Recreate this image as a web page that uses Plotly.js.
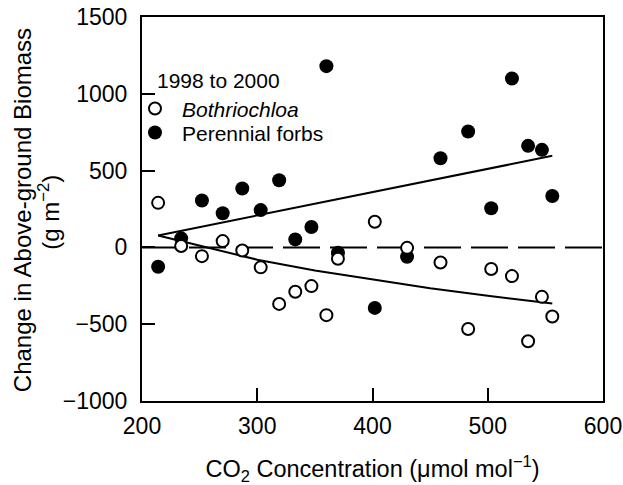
<!DOCTYPE html>
<html>
<head>
<meta charset="utf-8">
<script src="https://cdn.plot.ly/plotly-3.0.1.min.js"></script>
<style>html,body{margin:0;padding:0;background:#fff;}#chart{width:623px;height:485px;}</style>
</head>
<body>
<div id="chart"></div>
<script>
// Bothriochloa (open circles)
const bothCO2 = [214, 234, 252, 270, 287, 303, 319, 333, 347, 360, 370, 402, 430, 459, 483, 503, 521, 535, 547, 556];
const bothBio = [290, 9, -57, 41, -20, -130, -368, -289, -252, -441, -74, 167, -3, -98, -531, -141, -187, -611, -322, -450];
// Perennial forbs (filled circles)
const forbCO2 = [214, 234, 252, 270, 287, 303, 319, 333, 347, 360, 370, 402, 430, 459, 483, 503, 521, 535, 547, 556];
const forbBio = [-126, 59, 305, 222, 383, 243, 437, 52, 133, 1180, -35, -394, -61, 580, 755, 255, 1100, 661, 635, 335];
// fitted lines
const forbFitX = [214, 556];
const forbFitY = [78, 596];
const bothFitX = [214, 250, 300, 350, 400, 450, 500, 556];
const bothFitY = [78, 10, -80, -150, -210, -266, -315, -365];
// tick labels
const xTicks = [200, 300, 400, 500, 600];
const yTicks = [-1000, -500, 0, 500, 1000, 1500];
const yTickText = ['−1000', '−500', '0', '500', '1000', '1500'];

const FONT = 'Liberation Sans, Arial, Helvetica, sans-serif';

const traces = [
  {x: forbFitX, y: forbFitY, mode: 'lines', line: {color: '#000', width: 2}, showlegend: false, hoverinfo: 'skip'},
  {x: bothFitX, y: bothFitY, mode: 'lines', line: {color: '#000', width: 2}, showlegend: false, hoverinfo: 'skip'},
  {x: forbCO2, y: forbBio, mode: 'markers', name: 'Perennial forbs', legend: 'legend2',
   marker: {symbol: 'circle', size: 14, color: '#000', line: {width: 0}}},
  {x: bothCO2, y: bothBio, mode: 'markers', name: '<i>Bothriochloa</i>', legend: 'legend',
   marker: {symbol: 'circle', size: 12, color: '#fff', line: {color: '#000', width: 2}}}
];

const legendCommon = {
  xanchor: 'left', yanchor: 'middle', bgcolor: 'rgba(0,0,0,0)', borderwidth: 0,
  font: {size: 21}, itemwidth: 44
};

const layout = {
  width: 623, height: 485,
  margin: {l: 142, r: 20, t: 17, b: 84},
  paper_bgcolor: '#fff', plot_bgcolor: '#fff',
  font: {family: FONT, color: '#000', size: 23},
  xaxis: {
    range: [200, 600], tickvals: xTicks, ticktext: xTicks.map(String),
    ticks: 'inside', ticklen: 13, tickwidth: 2, tickcolor: '#000',
    showline: true, linewidth: 2, linecolor: '#000', mirror: true,
    showgrid: false, zeroline: false, ticklabelstandoff: 3,
    tickfont: {size: 23},
    title: {text: 'CO<sub>2</sub> Concentration (μmol mol<sup>−1</sup>)', font: {size: 23.5}, standoff: 25}
  },
  yaxis: {
    range: [-1000, 1500], tickvals: yTicks, ticktext: yTickText,
    ticks: 'inside', ticklen: 13, tickwidth: 2, tickcolor: '#000',
    showline: true, linewidth: 2, linecolor: '#000', mirror: true,
    showgrid: false, zeroline: false, ticklabelstandoff: 8,
    tickfont: {size: 23}
  },
  shapes: [
    {type: 'line', xref: 'paper', yref: 'y', x0: 0, x1: 1, y0: 0, y1: 0, layer: 'below',
     line: {color: '#000', width: 2, dash: '37px,10px'}}
  ],
  showlegend: true,
  legend: Object.assign({x: -0.0304, y: 0.761}, legendCommon),
  legend2: Object.assign({x: -0.0304, y: 0.6985}, legendCommon),
  annotations: [
    {text: '1998 to 2000', xref: 'paper', yref: 'paper', x: 0.028, y: 0.834,
     xanchor: 'left', yanchor: 'middle', showarrow: false, font: {size: 21}},
    {text: 'Change in Above-ground Biomass', xref: 'paper', yref: 'paper',
     x: -0.2603, y: 0.497, xanchor: 'center', yanchor: 'middle', textangle: -90, showarrow: false,
     font: {size: 24}},
    {text: '(g m<sup>−2</sup>)', xref: 'paper', yref: 'paper',
     x: -0.2017, y: 0.490, xanchor: 'center', yanchor: 'middle', textangle: -90, showarrow: false,
     font: {size: 24}}
  ]
};

Plotly.newPlot('chart', traces, layout, {displayModeBar: false, staticPlot: true});
</script>
</body>
</html>
